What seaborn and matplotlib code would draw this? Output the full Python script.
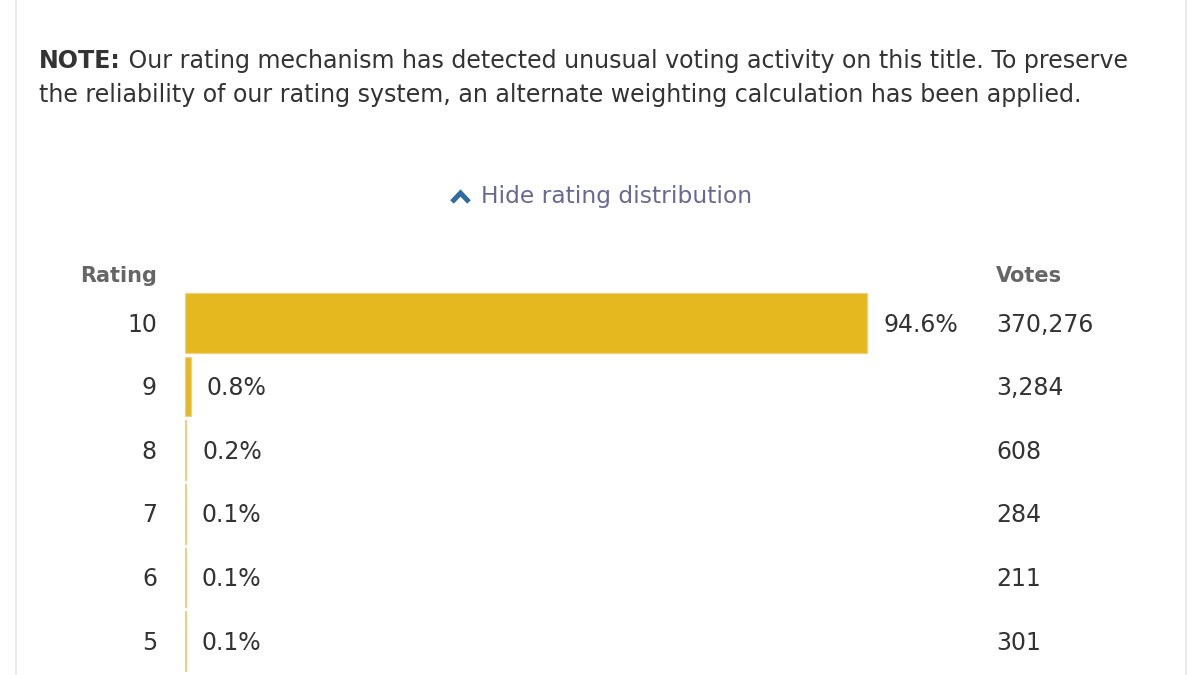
import matplotlib
matplotlib.use("Agg")
import matplotlib.pyplot as plt
from matplotlib.lines import Line2D
import seaborn as sns
import pandas as pd

# ---- data ----
ratings = ["10", "9", "8", "7", "6", "5"]
percents = [94.6, 0.8, 0.2, 0.1, 0.1, 0.1]
pct_labels = ["94.6%", "0.8%", "0.2%", "0.1%", "0.1%", "0.1%"]
votes = ["370,276", "3,284", "608", "284", "211", "301"]
note_bold = "NOTE:"
note_line1 = " Our rating mechanism has detected unusual voting activity on this title. To preserve"
note_line2 = "the reliability of our rating system, an alternate weighting calculation has been applied."
toggle_text = "Hide rating distribution"
rating_header = "Rating"
votes_header = "Votes"

df = pd.DataFrame({"rating": ratings, "pct": percents})

sns.set_theme(style="white")
plt.rcParams["font.family"] = ["DejaVu Sans"]

W, H = 1200, 675
DPI = 100
fig = plt.figure(figsize=(W / DPI, H / DPI), dpi=DPI, facecolor="white")

def fx(px):
    return px / W

def fy(py):
    return 1 - py / H

TXT = "#333333"
HDR = "#666666"
BAR = "#E5B820"

# card borders
for xb in (16, 1186):
    fig.add_artist(Line2D([fx(xb), fx(xb)], [0, 1], transform=fig.transFigure,
                          color="#e6e6e6", lw=1.2))

# note text
NOTE_FS = 17.1
t1 = fig.text(fx(39), fy(68), note_bold, fontsize=NOTE_FS, fontweight="bold",
              color=TXT, va="baseline", ha="left")
fig.canvas.draw()
bb = t1.get_window_extent()
fig.text(bb.x1 / W, fy(68), note_line1, fontsize=NOTE_FS, color=TXT,
         va="baseline", ha="left")
fig.text(fx(39), fy(102), note_line2, fontsize=NOTE_FS, color=TXT,
         va="baseline", ha="left")

# toggle
fig.text(fx(481), fy(203), toggle_text, fontsize=16.8, color="#6b6994",
         va="baseline", ha="left")
fig.add_artist(Line2D([fx(452), fx(460.5), fx(469)], [fy(202), fy(193), fy(202)],
                      transform=fig.transFigure, color="#2f6aa0", lw=3.6,
                      solid_capstyle="butt", solid_joinstyle="miter"))

# headers
fig.text(fx(157), fy(282), rating_header, fontsize=15, fontweight="bold",
         color=HDR, ha="right", va="baseline")
fig.text(fx(996), fy(282), votes_header, fontsize=15, fontweight="bold",
         color=HDR, ha="left", va="baseline")

# bar axes
row = 63.6
top_px = 323 - row / 2
ax = fig.add_axes([fx(185), 0, (906 - 185) / W, (H - top_px) / H])
sns.barplot(data=df, x="pct", y="rating", order=ratings, orient="h",
            color=BAR, width=0.94, linewidth=0.9, edgecolor="#ecd27a",
            saturation=1, ax=ax)
ax.set_xlim(0, 100)
ax.set_ylim((H - 323) / row, -0.5)
ax.set_xlabel("")
ax.set_ylabel("")
ax.set_xticks([])
ax.set_yticks([])
for s in ax.spines.values():
    s.set_visible(False)
ax.patch.set_alpha(0)

for i, (p, lab, v, r) in enumerate(zip(percents, pct_labels, votes, ratings)):
    ax.annotate(lab, xy=(p, i), xytext=(11.5, -6.2), textcoords="offset points",
                ha="left", va="baseline", fontsize=17, color=TXT,
                annotation_clip=False)
    ax.annotate(r, xy=(0, i), xytext=(-20.2, -6.2), textcoords="offset points",
                ha="right", va="baseline", fontsize=17, color=TXT,
                annotation_clip=False)
    ax.annotate(v, xy=(0, i), xytext=((996 - 185) * 0.72, -6.2),
                textcoords="offset points", ha="left", va="baseline",
                fontsize=17, color=TXT, annotation_clip=False)

fig.savefig("out.png", dpi=DPI, facecolor="white")
